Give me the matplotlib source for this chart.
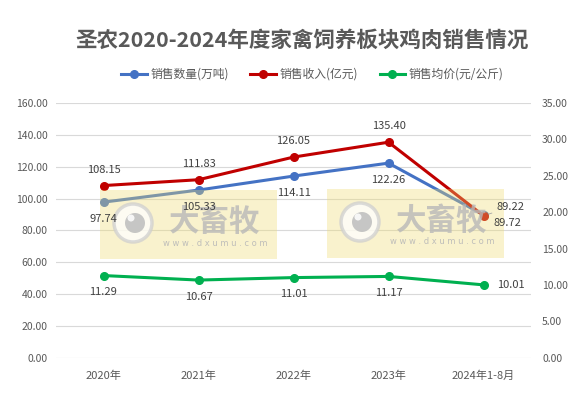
import numpy as np
import matplotlib
matplotlib.use('Agg')
import matplotlib.pyplot as plt
from matplotlib.patches import Rectangle, Circle

plt.rcParams['font.family'] = ['Noto Sans CJK SC', 'DejaVu Sans']

# data
years = ['2020年', '2021年', '2022年', '2023年', '2024年1-8月']
sales_volume = [97.74, 105.33, 114.11, 122.26, 89.72]     # 万吨, left axis
sales_revenue = [108.15, 111.83, 126.05, 135.40, 89.22]   # 亿元, left axis
avg_price = [11.29, 10.67, 11.01, 11.17, 10.01]           # 元/公斤, right axis

blue = '#4472C4'
red = '#C00000'
green = '#00B050'
txt = '#595959'
lbl = '#404040'

fig = plt.figure(figsize=(5.84, 4.01), dpi=100)
ax = fig.add_axes([0.0959, 0.108, 0.8134, 0.635])
ax2 = ax.twinx()

x = np.arange(len(years))
l1, = ax.plot(x, sales_volume, color=blue, lw=2.2, marker='o', ms=5.5, label='销售数量(万吨)', zorder=3)
l2, = ax.plot(x, sales_revenue, color=red, lw=2.2, marker='o', ms=5.5, label='销售收入(亿元)', zorder=4)
l3, = ax2.plot(x, avg_price, color=green, lw=2.2, marker='o', ms=5.5, label='销售均价(元/公斤)', zorder=3)

ax.set_xlim(-0.5, len(years) - 0.5)
ax.set_ylim(0, 160)
ax.set_yticks(np.arange(0, 161, 20))
ax.set_yticklabels([f'{v:.2f}' for v in np.arange(0, 161, 20)])
ax2.set_ylim(0, 35)
ax2.set_yticks(np.arange(0, 36, 5))
ax2.set_yticklabels([f'{v:.2f}' for v in np.arange(0, 36, 5)])
ax.set_xticks(x)
ax.set_xticklabels(years)

ax.grid(axis='y', color='#D9D9D9', lw=0.8)
ax.set_axisbelow(True)
for a in (ax, ax2):
    for s in a.spines.values():
        s.set_visible(False)
    a.tick_params(length=0, colors=txt, labelsize=7.5)
ax.tick_params(axis='x', labelsize=8, pad=9)
ax.tick_params(axis='y', pad=6)
ax2.tick_params(axis='y', pad=8)

# watermark, drawn in pixel coordinates over the lines
px = fig.add_axes([0, 0, 1, 1], zorder=-1)
px.set_xlim(0, 584)
px.set_ylim(401, 0)
px.axis('off')
pt = px.transData
for x0, y0 in [(100, 190), (327, 189)]:
    ax2.add_patch(Rectangle((x0, y0), 177, 69, facecolor='#EEDC70', alpha=0.35, lw=0,
                            transform=pt, clip_on=False, zorder=6))
    cx, cy = x0 + 33, y0 + 33
    ax2.add_patch(Circle((cx, cy), 19, facecolor='white', edgecolor='#CFCFCF', lw=2.5, alpha=0.75,
                         transform=pt, clip_on=False, zorder=6))
    ax2.add_patch(Circle((cx + 2, cy), 10, facecolor='#BDBDBD', lw=0, alpha=0.85,
                         transform=pt, clip_on=False, zorder=6))
    ax2.add_patch(Circle((cx - 2, cy - 5), 3.5, facecolor='white', lw=0, alpha=0.85,
                         transform=pt, clip_on=False, zorder=6))
    ax2.text(x0 + 115, y0 + 32, '大畜牧', ha='center', va='center', fontsize=22,
             fontweight='bold', color='#B8B8B8', alpha=0.8, transform=pt, clip_on=False, zorder=6)
    ax2.text(x0 + 115, y0 + 53, 'w w w . d x u m u . c o m', ha='center', va='center',
             fontsize=6, color='#B8B8B8', family='DejaVu Sans', alpha=0.9,
             transform=pt, clip_on=False, zorder=6)

# data labels, above the watermark
kw = dict(textcoords='offset points', va='center', fontsize=8, color=lbl, zorder=10)
for i in range(4):
    ax2.annotate(f'{sales_revenue[i]:.2f}', (x[i], sales_revenue[i]), xycoords=ax.transData,
                 xytext=(0, 11.5), ha='center', **kw)
    ax2.annotate(f'{sales_volume[i]:.2f}', (x[i], sales_volume[i]), xycoords=ax.transData,
                 xytext=(0, -12), ha='center', **kw)
    ax2.annotate(f'{avg_price[i]:.2f}', (x[i], avg_price[i]),
                 xytext=(0, -12), ha='center', **kw)
ax2.annotate(f'{sales_revenue[4]:.2f}', (x[4], sales_revenue[4]), xycoords=ax.transData,
             xytext=(9, 6), ha='left',
             arrowprops=dict(arrowstyle='-', color='#A6A6A6', lw=0.6, shrinkA=1, shrinkB=4), **kw)
ax2.annotate(f'{sales_volume[4]:.2f}', (x[4], sales_volume[4]), xycoords=ax.transData,
             xytext=(7, -6), ha='left', **kw)
ax2.annotate(f'{avg_price[4]:.2f}', (x[4], avg_price[4]), xytext=(10, 0), ha='left', **kw)

fig.text(0.517, 0.9, '圣农2020-2024年度家禽饲养板块鸡肉销售情况', ha='center', va='center',
         fontsize=15.5, fontweight='bold', color=txt)
fig.legend(handles=[l1, l2, l3], loc='center', bbox_to_anchor=(0.535, 0.815), ncol=3,
           frameon=False, fontsize=8.5, labelcolor=txt, handlelength=2.2,
           handletextpad=0.3, columnspacing=1.8)

fig.savefig('out.png', dpi=100)
